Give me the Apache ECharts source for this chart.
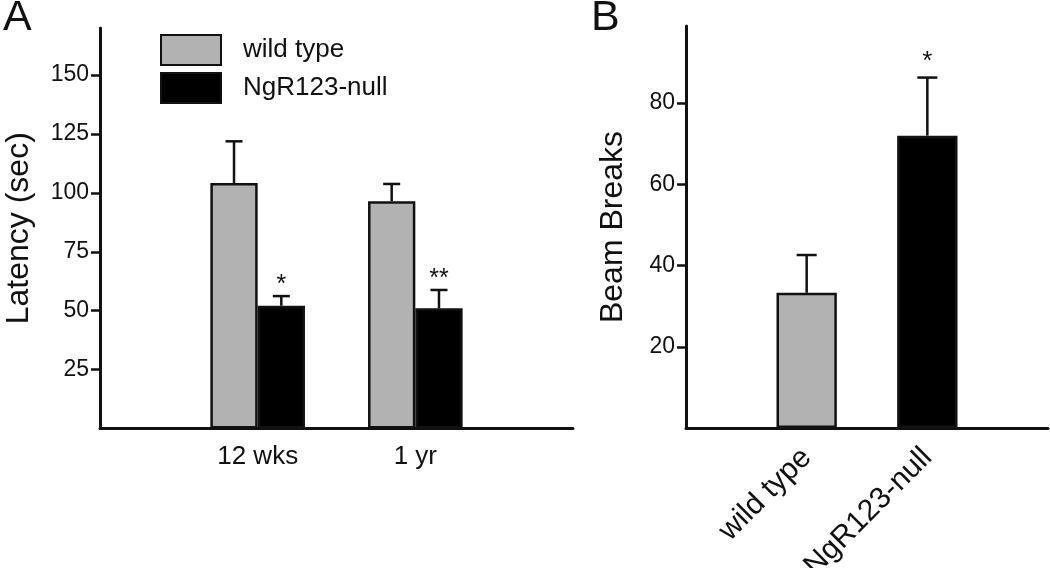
<!DOCTYPE html>
<html><head><meta charset="utf-8">
<script src="https://cdn.jsdelivr.net/npm/echarts@6/dist/echarts.min.js"></script>
<style>html,body{margin:0;padding:0;background:#fff}#c{width:1050px;height:568px}</style>
</head><body><div id="c"></div>
<script>
// ---- Panel A data ----
const groupsA = ['12 wks', '1 yr'];
const wildLatency = [104.2, 96.5];
const wildLatencyUpper = [121.9, 103.8];
const nullLatency = [52.1, 51.0];
const nullLatencyUpper = [56.2, 58.8];
const wildSig = ['', ''];
const nullSig = ['*', '**'];
const latencyTicks = [25, 50, 75, 100, 125, 150];

// ---- Panel B data ----
const genotypes = ['wild type', 'NgR123-null'];
const beamBreaks = [33.3, 72.0];
const beamBreaksUpper = [42.6, 86.3];
const beamSig = ['', '*'];
const beamTicks = [20, 40, 60, 80];

const FONT = '"Liberation Sans", Arial, Helvetica, sans-serif';
const INK = '#111';
const GRAY = '#b2b2b2';
const BLACK = '#000';

const catsA = [''].concat(groupsA, [' ']);
const catsB = [''].concat(genotypes, [' ']);
const pad = arr => ['-'].concat(arr, ['-']);

function errRender(offsetFrac, capFrac, sigArr, sigGap, sigSize) {
  return function (params, api) {
    const xi = api.value(0);
    const base = api.coord([xi, api.value(1)]);
    const top = api.coord([xi, api.value(2)]);
    const band = api.size([1, 0])[0];
    const x = base[0] + offsetFrac * band;
    const half = capFrac * band;
    const children = [
      {type: 'line', shape: {x1: x, y1: base[1], x2: x, y2: top[1]}, style: {stroke: INK, lineWidth: 2.5}},
      {type: 'line', shape: {x1: x - half, y1: top[1], x2: x + half, y2: top[1]}, style: {stroke: INK, lineWidth: 2.5}}
    ];
    const s = sigArr[params.dataIndex];
    if (s) {
      children.push({type: 'text', style: {text: s, x: x, y: top[1] - sigGap, align: 'center', verticalAlign: 'middle',
        fontSize: sigSize, fontFamily: FONT, fill: INK}});
    }
    return {type: 'group', children: children};
  };
}

function errData(groups, mean, upper) {
  return groups.map((g, i) => [i + 1, mean[i], upper[i]]);
}

function yAxisCfg(grid, max, interval, ticks, name, gap) {
  return {
    gridIndex: grid, type: 'value', min: 0, max: max, interval: interval,
    name: name, nameLocation: 'middle', nameGap: gap,
    nameTextStyle: {fontSize: 32, color: INK, fontFamily: FONT},
    axisLine: {show: true, lineStyle: {color: INK, width: 3}},
    axisTick: {show: true, inside: false, length: 9, lineStyle: {color: INK, width: 2.5}, customValues: ticks},
    axisLabel: {fontSize: 23, color: INK, margin: 11, fontFamily: FONT, customValues: ticks},
    splitLine: {show: false}
  };
}

const chart = echarts.init(document.getElementById('c'), null, {renderer: 'canvas'});
chart.setOption({
  animation: false,
  backgroundColor: '#fff',
  textStyle: {fontFamily: FONT},
  graphic: [
    {type: 'text', style: {text: 'A', x: 3, y: 18, fontSize: 43, fontFamily: FONT, fill: INK, verticalAlign: 'middle'}},
    {type: 'text', style: {text: 'B', x: 591, y: 18, fontSize: 43, fontFamily: FONT, fill: INK, verticalAlign: 'middle'}}
  ],
  legend: {
    data: ['wild type', 'NgR123-null'], orient: 'vertical', left: 160, top: 34, padding: 0,
    itemWidth: 60, itemHeight: 30, itemGap: 6, icon: 'rect', selectedMode: false,
    textStyle: {fontSize: 26, color: INK, fontFamily: FONT, padding: [3, 0, 0, 17]}
  },
  grid: [
    {left: 100, top: 28, width: 473, height: 400.5, containLabel: false, outerBoundsMode: 'none'},
    {left: 686, top: 26, width: 362, height: 402, containLabel: false, outerBoundsMode: 'none'}
  ],
  xAxis: [
    {gridIndex: 0, type: 'category', data: catsA, boundaryGap: false,
     axisLine: {lineStyle: {color: INK, width: 3}}, axisTick: {show: false},
     axisLabel: {fontSize: 26, color: INK, margin: 15, interval: 0, fontFamily: FONT}},
    {gridIndex: 1, type: 'category', data: catsB, boundaryGap: false,
     axisLine: {lineStyle: {color: INK, width: 3}}, axisTick: {show: false},
     axisLabel: {fontSize: 30, color: INK, margin: 25, interval: 0, rotate: 45, fontFamily: FONT}}
  ],
  yAxis: [
    yAxisCfg(0, 170, 25, latencyTicks, 'Latency (sec)', 65),
    yAxisCfg(1, 99, 20, beamTicks, 'Beam Breaks', 57)
  ],
  series: [
    {name: 'wild type', type: 'bar', xAxisIndex: 0, yAxisIndex: 0, data: pad(wildLatency),
     barGap: 0, barCategoryGap: '40%', itemStyle: {color: GRAY, borderColor: INK, borderWidth: 2.5}},
    {name: 'NgR123-null', type: 'bar', xAxisIndex: 0, yAxisIndex: 0, data: pad(nullLatency),
     barGap: 0, barCategoryGap: '40%', itemStyle: {color: BLACK, borderColor: INK, borderWidth: 2.5}},
    {name: 'err-wt-A', type: 'custom', xAxisIndex: 0, yAxisIndex: 0, z: 5,
     data: errData(groupsA, wildLatency, wildLatencyUpper), renderItem: errRender(-0.15, 0.054, wildSig, 11, 25)},
    {name: 'err-null-A', type: 'custom', xAxisIndex: 0, yAxisIndex: 0, z: 5,
     data: errData(groupsA, nullLatency, nullLatencyUpper), renderItem: errRender(0.15, 0.054, nullSig, 11, 25)},
    {name: 'Beam Breaks', type: 'bar', xAxisIndex: 1, yAxisIndex: 1, barWidth: '50%',
     data: pad(beamBreaks.map((v, i) => ({value: v, itemStyle: {color: i === 0 ? GRAY : BLACK}}))),
     itemStyle: {borderColor: INK, borderWidth: 2.5}},
    {name: 'err-B', type: 'custom', xAxisIndex: 1, yAxisIndex: 1, z: 5,
     data: errData(genotypes, beamBreaks, beamBreaksUpper), renderItem: errRender(0, 0.083, beamSig, 16, 26)}
  ]
});
</script></body></html>
